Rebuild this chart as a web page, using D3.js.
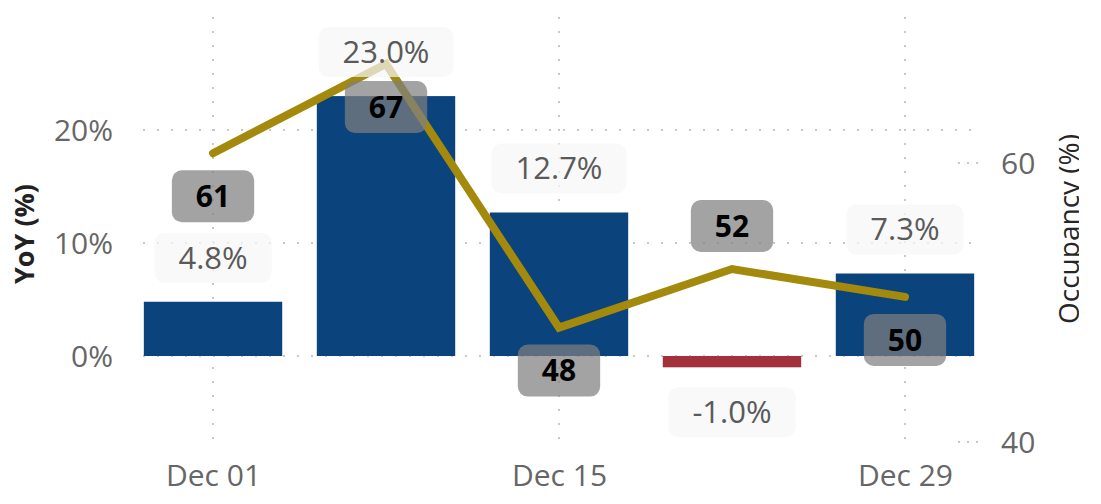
<!DOCTYPE html>
<html><head><meta charset="utf-8">
<script src="https://cdn.jsdelivr.net/npm/d3@7"></script>
<style>
html,body{margin:0;padding:0;background:#fff;}
svg{display:block;font-family:"Open Sans",sans-serif;}
</style></head>
<body>
<svg id="chart" width="1101" height="504"></svg>
<script>
// ---- data ----
const dates = ["2024-12-01","2024-12-08","2024-12-15","2024-12-22","2024-12-29"];
const yoy = [4.8, 23.0, 12.7, -1.0, 7.3];
const occupancy = [60.7, 67.1, 48.2, 52.4, 50.4];
const yoyTicks = [0, 10, 20];
const occTicks = [40, 60];
const xTickDates = ["2024-12-01","2024-12-15","2024-12-29"];
const occLabelSide = ["below","below","below","above","below"];

const parse = d3.timeParse("%Y-%m-%d");
const data = dates.map((d,i)=>({date:parse(d), yoy:yoy[i], occ:occupancy[i], side:occLabelSide[i]}));

const svg = d3.select("#chart");
const W = 1101, H = 504;
const plot = {left:143, right:975, top:17, bottom:446};

const padMs = 68*3600*1000;
const x = d3.scaleTime()
  .domain([new Date(parse(dates[0]).getTime()-padMs), new Date(parse(dates[dates.length-1]).getTime()+padMs)])
  .range([plot.left, plot.right]);
const yL = d3.scaleLinear().domain([0,20]).range([356,130]);
const yR = d3.scaleLinear().domain([40,60]).range([442,163]);

const weekPx = x(parse(dates[1])) - x(parse(dates[0]));
const barW = weekPx*0.8;

const gridColor = "#c8c8c8";
const dash = "2,12";

// horizontal grid
svg.append("g").selectAll("line").data(yoyTicks).join("line")
  .attr("x1", plot.left).attr("x2", plot.right)
  .attr("y1", d=>yL(d)).attr("y2", d=>yL(d))
  .attr("stroke", gridColor).attr("stroke-width",2).attr("stroke-dasharray",dash);
// vertical grid
svg.append("g").selectAll("line").data(xTickDates).join("line")
  .attr("x1", d=>x(parse(d))).attr("x2", d=>x(parse(d)))
  .attr("y1", plot.top).attr("y2", plot.bottom)
  .attr("stroke", gridColor).attr("stroke-width",2).attr("stroke-dasharray",dash);
// right ticks (dotted)
svg.append("g").selectAll("line").data(occTicks).join("line")
  .attr("x1", 958).attr("x2", 980)
  .attr("y1", d=>yR(d)).attr("y2", d=>yR(d))
  .attr("stroke", gridColor).attr("stroke-width",2).attr("stroke-dasharray","2,7");

// left axis labels
const axL = d3.axisLeft(yL).tickValues(yoyTicks).tickFormat(d=>d+"%").tickSize(0).tickPadding(0);
const gL = svg.append("g").attr("transform","translate(113,0)").call(axL);
gL.select(".domain").remove();
gL.selectAll("text").attr("font-size",30).attr("fill","#666").attr("font-family","Open Sans").attr("dy","0.35em");

// right axis labels
const axR = d3.axisRight(yR).tickValues(occTicks).tickFormat(d3.format("d")).tickSize(0).tickPadding(0);
const gR = svg.append("g").attr("transform","translate(1001,0)").call(axR);
gR.select(".domain").remove();
gR.selectAll("text").attr("font-size",30).attr("fill","#666").attr("font-family","Open Sans").attr("dy","0.35em");

// x axis labels
const axX = d3.axisBottom(x).tickValues(xTickDates.map(parse)).tickFormat(d3.timeFormat("%b %d")).tickSize(0).tickPadding(0);
const gX = svg.append("g").attr("transform","translate(0,464)").call(axX);
gX.select(".domain").remove();
gX.selectAll("text").attr("font-size",30).attr("fill","#666").attr("font-family","Open Sans").attr("dy","0.72em");

// axis titles
svg.append("text").attr("transform","translate(34,234) rotate(-90)")
  .attr("text-anchor","middle").attr("font-size",27).attr("font-weight",700).attr("fill","#222")
  .text("YoY (%)");
svg.append("clipPath").attr("id","rclip").append("rect").attr("x",1040).attr("y",0).attr("width",39).attr("height",H);
svg.append("g").attr("clip-path","url(#rclip)")
  .append("text").attr("transform","translate(1079,229) rotate(-90)")
  .attr("text-anchor","middle").attr("font-size",28).attr("font-weight",500).attr("fill","#262626")
  .text("Occupancy (%)");

// bars
svg.append("g").selectAll("rect").data(data).join("rect")
  .attr("x", d=>x(d.date)-barW/2).attr("width", barW)
  .attr("y", d=>yL(Math.max(0,d.yoy)))
  .attr("height", d=>Math.abs(yL(d.yoy)-yL(0)))
  .attr("fill", d=>d.yoy>=0 ? "#0b437c" : "#a3313b");

// line
svg.append("path").datum(data)
  .attr("d", d3.line().x(d=>x(d.date)).y(d=>yR(d.occ)))
  .attr("fill","none").attr("stroke","#a38a0c").attr("stroke-width",8)
  .attr("stroke-linejoin","miter").attr("stroke-linecap","round");

// bar labels
const bl = svg.append("g").selectAll("g").data(data).join("g")
  .attr("transform", d=>`translate(${x(d.date)},${d.yoy>=0 ? yL(d.yoy)-44 : yL(d.yoy)+45})`);
bl.append("text").attr("text-anchor","middle").attr("dy","0.35em")
  .attr("font-size",31).attr("fill","#5a5a5a").text(d=>d.yoy.toFixed(1)+"%");
bl.each(function(){
  const g = d3.select(this), bb = g.select("text").node().getBBox();
  g.insert("rect","text").attr("x",-bb.width/2-24).attr("width",bb.width+48)
    .attr("y",-25).attr("height",50).attr("rx",10)
    .attr("fill","rgba(246,246,246,0.72)");
});

// line labels
const ll = svg.append("g").selectAll("g").data(data).join("g")
  .attr("transform", d=>`translate(${x(d.date)},${d.side==="above" ? yR(d.occ)-43 : yR(d.occ)+43})`);
ll.append("text").attr("text-anchor","middle").attr("dy","0.36em")
  .attr("font-size",30).attr("font-weight",700).attr("fill","#000").text(d=>Math.round(d.occ));
ll.each(function(){
  const g = d3.select(this), bb = g.select("text").node().getBBox();
  g.insert("rect","text").attr("x",-bb.width/2-24).attr("width",bb.width+48)
    .attr("y",-26).attr("height",52).attr("rx",10)
    .attr("fill","rgba(128,128,128,0.72)");
});
</script>
</body></html>
